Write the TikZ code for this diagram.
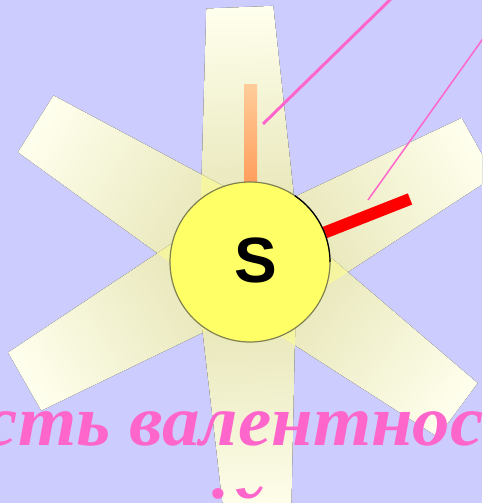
\documentclass[tikz,border=0pt]{standalone}
\usepackage{fontspec}
\newfontfamily\titlefont{Liberation Serif}
\newfontfamily\symbolfont{Liberation Sans}
\definecolor{bgviolet}{RGB}{204,204,255}
\definecolor{raybase}{RGB}{225,224,170}
\definecolor{raytip}{RGB}{255,255,238}
\definecolor{rayover}{RGB}{250,250,150}
\definecolor{atomfill}{RGB}{255,255,102}
\definecolor{atomrim}{RGB}{128,128,80}
\definecolor{pinkline}{RGB}{255,102,204}
\definecolor{peach}{RGB}{255,204,153}
\definecolor{orangebar}{RGB}{255,148,80}
\newcommand\raypath[1]{(0,{#1+51}) -- (255,{#1+33.5}) -- (255,{#1-33.5}) -- (0,{#1-51}) -- cycle}

\begin{document}
\begin{tikzpicture}[x=1pt, y=1pt,
    ray/.style={left color=raybase, right color=raytip},
    rayoverlap/.style={fill=rayover, fill opacity=0.7},
    atom/.style={circle, fill=atomfill, draw=atomrim, line width=1.2pt, minimum size=160pt, inner sep=0pt},
    symbol/.style={font=\symbolfont\bfseries\fontsize{64}{64}\selectfont, inner sep=0pt},
    bondup/.style={top color=peach, bottom color=orangebar},
    bondred/.style={draw=red, line width=12pt},
    pointer/.style={draw=pinkline},
    caption/.style={text=pinkline, font=\titlefont\bfseries\itshape\fontsize{72}{72}\selectfont, inner sep=0pt, anchor=base west, xscale=1.04}]
    % Background and frame:
    \fill[bgviolet] (0,0) rectangle (482,503);
    \useasboundingbox (0,0) rectangle (482,503);
    \clip (0,0) rectangle (482,503);
    \coordinate (C) at (250,241);
    % Rays, angle/offset:
    \foreach \ang/\off in {92.3/0, 148/-3.6, 209.7/-7.8, 29.2/-11, -36.6/5, -87.3/-4.3}{
        \begin{scope}[transform canvas={shift={(C)}, rotate=\ang}]
            \fill[ray] \raypath{\off};
        \end{scope}
    }
    % where two rays cross
    \foreach \a/\oa/\b/\ob in {-87.3/-4.3/-36.6/5, -36.6/5/29.2/-11, 29.2/-11/92.3/0, 92.3/0/148/-3.6, 148/-3.6/209.7/-7.8, 209.7/-7.8/272.7/-4.3}{
        \begin{scope}[transform canvas={shift={(C)}, rotate=\a}]
            \clip \raypath{\oa};
            \begin{scope}[transform canvas={rotate=\b-\a}]
                \fill[rayoverlap] \raypath{\ob};
            \end{scope}
        \end{scope}
    }
    % Bonds and pointers:
    \shade[bondup] (244,300) rectangle (257,418);
    \coordinate (redend) at ([shift={(21.5:172)}]C);
    \draw[bondred] (C) -- (redend);
    \coordinate (tip1) at (263,379);
    \coordinate (far1) at (396,509);
    \draw[pointer, line width=3pt] (tip1) -- (far1);
    \coordinate (tip2) at (368,303);
    \coordinate (far2) at (490,474.2);
    \draw[pointer, line width=1.5pt] (tip2) -- (far2);
    % Atom:
    \node[atom] (atom) at (C) {};
    \draw[line width=1.2pt] ([shift={(0:80)}]C) arc[start angle=0, end angle=56, radius=80];
    \node[symbol] (sym) at ([shift={(6,2)}]C) {S};
    % Caption:
    \node[caption] (line1) at (-15.3,57) {сть валентнос};
    \node[caption] (line2) at (203,-35) {ій};
\end{tikzpicture}
\end{document}
